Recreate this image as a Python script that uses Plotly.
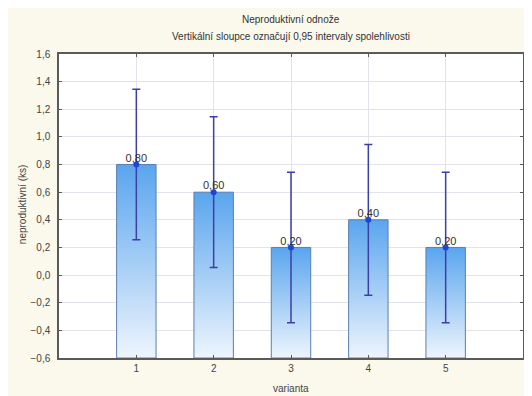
import plotly.graph_objects as go

categories = [1, 2, 3, 4, 5]
means = [0.80, 0.60, 0.20, 0.40, 0.20]
ci_half = [0.545, 0.545, 0.545, 0.545, 0.545]
value_labels = ["0,80", "0,60", "0,20", "0,40", "0,20"]
y_ticks = [-0.6, -0.4, -0.2, 0.0, 0.2, 0.4, 0.6, 0.8, 1.0, 1.2, 1.4, 1.6]

BASE = -0.6
BAR_W = 0.51

# page has an 8px body margin; figure fills the rest of the 532x396 window
OFF = 8
W, H = 532 - OFF, 396 - OFF
L, R, T, B = 59 - OFF, 7, 54 - OFF, 38
PW, PH = W - L - R, H - T - B

def px_x(p):
    return (p - OFF - L) / PW

def px_y(p):
    return (H - B - (p - OFF)) / PH

FONT = "Liberation Sans, Arial, sans-serif"

fig = go.Figure()

for c, m in zip(categories, means):
    xs = [c - BAR_W / 2, c + BAR_W / 2, c + BAR_W / 2, c - BAR_W / 2, c - BAR_W / 2]
    ys = [BASE, BASE, m, m, BASE]
    fig.add_trace(go.Scatter(
        x=xs, y=ys, mode="lines", fill="toself",
        fillgradient=dict(type="vertical",
                          colorscale=[[0, "#eef5fd"], [1, "#5aa5ee"]],
                          start=BASE, stop=m),
        line=dict(color="#5a7fb0", width=1),
        hoverinfo="skip", showlegend=False,
    ))

fig.add_trace(go.Scatter(
    x=categories, y=means, mode="markers",
    marker=dict(color="#1c46d6", size=6),
    error_y=dict(type="data", array=ci_half, visible=True,
                 color="#3b3fa6", thickness=1.5, width=4),
    showlegend=False,
))

fig.add_trace(go.Scatter(
    x=categories, y=means, mode="text",
    text=value_labels, textposition="top center",
    textfont=dict(family=FONT, size=11, color="#333333"),
    showlegend=False, hoverinfo="skip",
))

fig.update_layout(
    width=W, height=H,
    margin=dict(l=L, r=R, t=T, b=B),
    paper_bgcolor="#fbf8ec",
    plot_bgcolor="#ffffff",
    separators=", ",
    font=dict(family=FONT, size=10, color="#444444"),
    xaxis=dict(range=[0, 6], tickvals=categories, ticktext=[str(c) for c in categories],
               showgrid=True, gridcolor="#e2e2ea", gridwidth=1,
               showline=True, linecolor="#5a5a5a", linewidth=1.5, mirror="ticks",
               ticks="inside", ticklen=3, tickcolor="#5a5a5a",
               zeroline=False, tickfont=dict(size=10, color="#444444")),
    yaxis=dict(range=[-0.6, 1.6], tickvals=y_ticks, tickformat=".1f",
               showgrid=True, gridcolor="#e2e2ea", gridwidth=1,
               showline=True, linecolor="#5a5a5a", linewidth=1.5, mirror="ticks",
               ticks="inside", ticklen=3, tickcolor="#5a5a5a", ticklabelstandoff=5,
               zeroline=False, tickfont=dict(size=10, color="#444444")),
    annotations=[
        dict(text="Neproduktivní odnože", xref="paper", yref="paper",
             x=0.5, y=px_y(20), showarrow=False, xanchor="center", yanchor="middle",
             font=dict(family=FONT, size=10, color="#333333")),
        dict(text="Vertikální sloupce označují 0,95 intervaly spolehlivosti", xref="paper", yref="paper",
             x=0.5, y=px_y(37), showarrow=False, xanchor="center", yanchor="middle",
             font=dict(family=FONT, size=10, color="#333333")),
        dict(text="neproduktivní (ks)", xref="paper", yref="paper",
             x=px_x(22), y=px_y(205), showarrow=False, textangle=-90,
             xanchor="center", yanchor="middle",
             font=dict(family=FONT, size=10, color="#444444")),
        dict(text="varianta", xref="paper", yref="paper",
             x=0.5, y=px_y(388), showarrow=False, xanchor="center", yanchor="middle",
             font=dict(family=FONT, size=10, color="#444444")),
    ],
)

fig.write_html("out.html")
